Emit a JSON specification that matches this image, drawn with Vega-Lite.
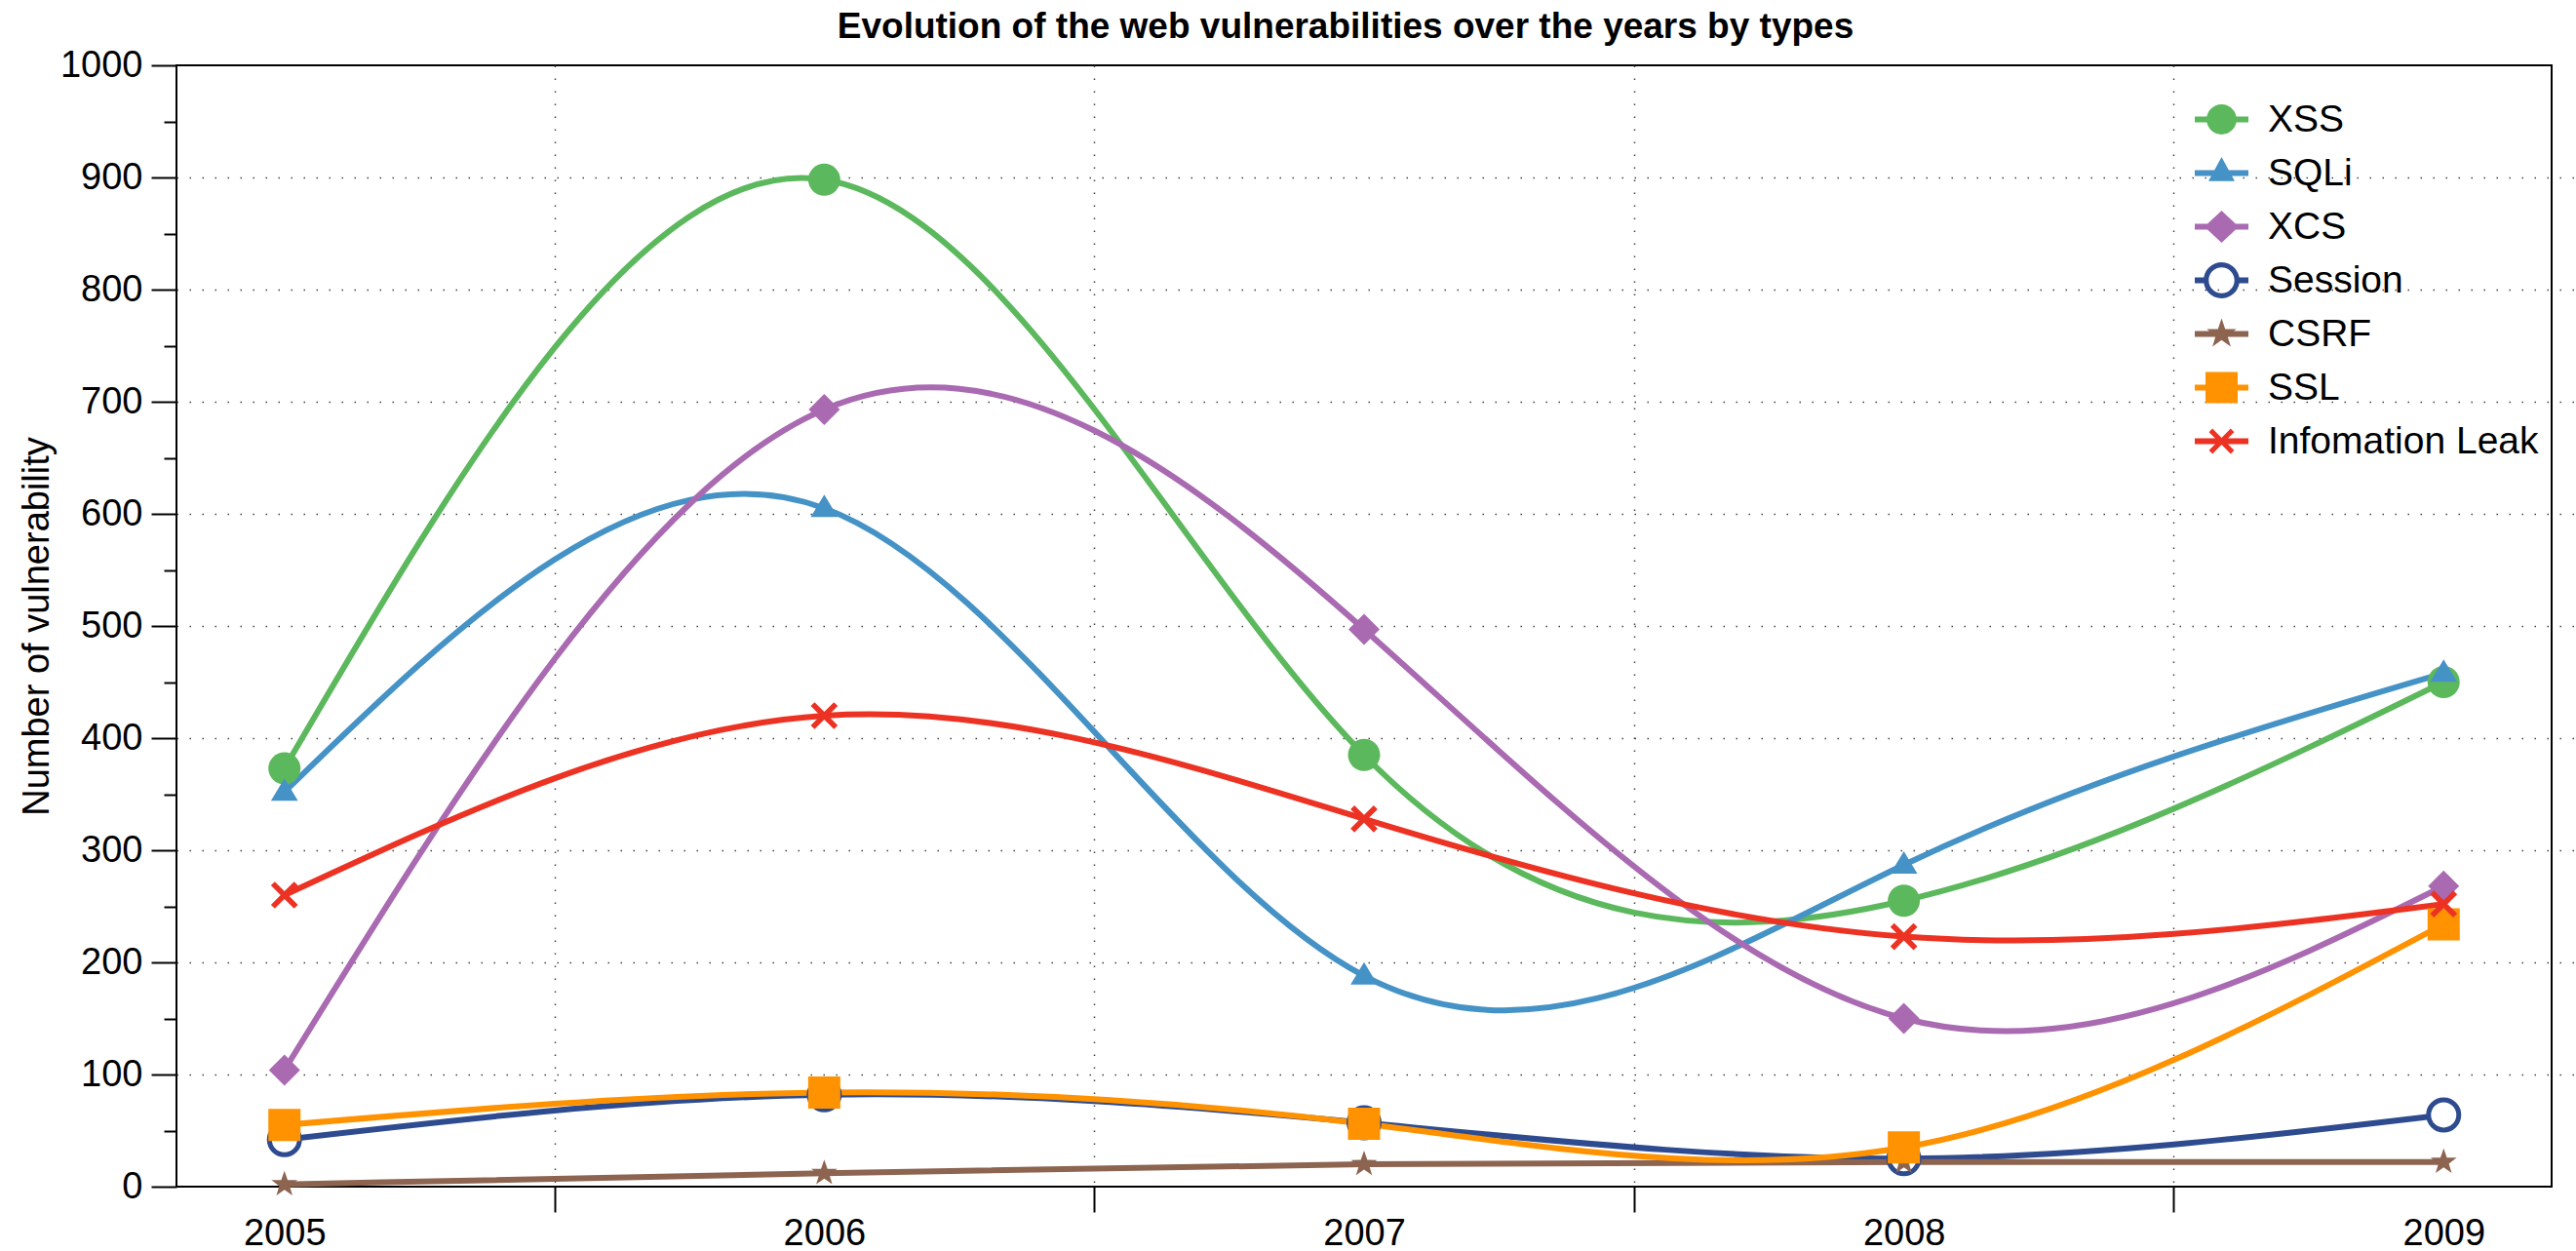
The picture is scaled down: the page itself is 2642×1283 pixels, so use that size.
{
  "$schema": "https://vega.github.io/schema/vega-lite/v6.json",
  "width": 2436,
  "height": 1150,
  "autosize": {"type": "none"},
  "padding": {"left": 181, "top": 67, "right": 25, "bottom": 66},
  "background": "white",
  "config": {
    "font": "Liberation Sans",
    "view": {"stroke": "#000000", "strokeWidth": 2}
  },
  "title": {
    "text": "Evolution of the web vulnerabilities over the years by types",
    "fontSize": 37,
    "fontWeight": "bold",
    "font": "Liberation Sans",
    "color": "#000000",
    "anchor": "middle",
    "frame": "group",
    "baseline": "bottom",
    "offset": 10,
    "dx": -19,
    "dy": 46
  },
  "data": {
    "values": [
      {"type": "XSS", "year": 2005, "value": 373},
      {"type": "XSS", "year": 2006, "value": 898},
      {"type": "XSS", "year": 2007, "value": 385},
      {"type": "XSS", "year": 2008, "value": 255},
      {"type": "XSS", "year": 2009, "value": 450},
      {"type": "SQLi", "year": 2005, "value": 352},
      {"type": "SQLi", "year": 2006, "value": 605},
      {"type": "SQLi", "year": 2007, "value": 188},
      {"type": "SQLi", "year": 2008, "value": 287},
      {"type": "SQLi", "year": 2009, "value": 458},
      {"type": "XCS", "year": 2005, "value": 104},
      {"type": "XCS", "year": 2006, "value": 693},
      {"type": "XCS", "year": 2007, "value": 497},
      {"type": "XCS", "year": 2008, "value": 150},
      {"type": "XCS", "year": 2009, "value": 268},
      {"type": "Session", "year": 2005, "value": 42},
      {"type": "Session", "year": 2006, "value": 82},
      {"type": "Session", "year": 2007, "value": 57},
      {"type": "Session", "year": 2008, "value": 25},
      {"type": "Session", "year": 2009, "value": 64},
      {"type": "CSRF", "year": 2005, "value": 2},
      {"type": "CSRF", "year": 2006, "value": 12},
      {"type": "CSRF", "year": 2007, "value": 20},
      {"type": "CSRF", "year": 2008, "value": 22},
      {"type": "CSRF", "year": 2009, "value": 22},
      {"type": "SSL", "year": 2005, "value": 55},
      {"type": "SSL", "year": 2006, "value": 84},
      {"type": "SSL", "year": 2007, "value": 56},
      {"type": "SSL", "year": 2008, "value": 35},
      {"type": "SSL", "year": 2009, "value": 234},
      {"type": "Infomation Leak", "year": 2005, "value": 260},
      {"type": "Infomation Leak", "year": 2006, "value": 420},
      {"type": "Infomation Leak", "year": 2007, "value": 328},
      {"type": "Infomation Leak", "year": 2008, "value": 223},
      {"type": "Infomation Leak", "year": 2009, "value": 252}
    ]
  },
  "encoding": {
    "x": {
      "field": "year",
      "type": "quantitative",
      "scale": {"domain": [2004.8, 2009.52], "range": [0, 2613.16], "nice": false, "zero": false},
      "axis": {
        "title": null,
        "values": [2005.5, 2006.5, 2007.5, 2008.5, 2009.5],
        "labelExpr": "'' + floor(datum.value)",
        "labelOffset": -276.8,
        "labelOverlap": false,
        "labelFlush": false,
        "labelBound": false,
        "labelFontSize": 38,
        "labelColor": "#000000",
        "labelPadding": 3,
        "domain": false,
        "tickSize": 26,
        "tickWidth": 2,
        "tickColor": "#000000",
        "grid": true,
        "gridColor": "#444444",
        "gridWidth": 1.5,
        "gridDash": [1.5, 11.5]
      }
    },
    "y": {
      "field": "value",
      "type": "quantitative",
      "scale": {"domain": [0, 1000], "nice": false},
      "axis": {
        "title": "Number of vulnerability",
        "titleFontSize": 38,
        "titleFontWeight": "normal",
        "titleColor": "#000000",
        "titlePadding": 4,
        "values": [0, 50, 100, 150, 200, 250, 300, 350, 400, 450, 500, 550, 600, 650, 700, 750, 800, 850, 900, 950, 1000],
        "format": "d",
        "labelExpr": "datum.value % 100 === 0 ? datum.label : ''",
        "labelOverlap": false,
        "labelFlush": false,
        "labelFontSize": 38,
        "labelColor": "#000000",
        "labelPadding": 9,
        "domain": false,
        "tickSize": {"condition": {"test": "datum.value % 100 === 0", "value": 26}, "value": 13},
        "tickWidth": 2,
        "tickColor": "#000000",
        "grid": true,
        "gridColor": "#444444",
        "gridWidth": 1.5,
        "gridDash": [1.5, 11.5],
        "gridOpacity": {"condition": {"test": "datum.value % 100 === 0 && datum.value > 0 && datum.value < 1000", "value": 1}, "value": 0}
      }
    }
  },
  "layer": [
    {
      "mark": {"type": "line", "interpolate": "natural", "strokeWidth": 6},
      "encoding": {
        "color": {
          "field": "type",
          "type": "nominal",
          "scale": {
            "domain": ["XSS", "SQLi", "XCS", "Session", "CSRF", "SSL", "Infomation Leak"],
            "range": ["#5CB85C", "#4592C6", "#A96AB1", "#2D4B8E", "#8C6450", "#FF9200", "#EC3223"]
          },
          "legend": {
            "title": null,
            "orient": "none",
            "legendX": 2070,
            "legendY": 28,
            "padding": 0,
            "rowPadding": 7,
            "symbolSize": 3025,
            "labelFontSize": 39,
            "labelColor": "#000000",
            "labelOffset": 20,
            "labelLimit": 500,
            "encode": {
              "symbols": {
                "update": {
                  "shape": {"signal": "datum.value === 'XSS' ? 'M-1 -0.11H1V0.11H-1Z M0.56 0A0.56 0.56 0 1 1 -0.56 0A0.56 0.56 0 1 1 0.56 0Z' : datum.value === 'SQLi' ? 'M-1 -0.11H1V0.11H-1Z M0 -0.6L0.49 0.3L-0.49 0.3Z' : datum.value === 'XCS' ? 'M-1 -0.11H1V0.11H-1Z M0 -0.6L0.64 0L0 0.6L-0.64 0Z' : datum.value === 'Session' ? 'M-1 -0.11H-0.6V0.11H-1Z M0.6 -0.11H1V0.11H0.6Z M0.67 0A0.67 0.67 0 1 1 -0.67 0A0.67 0.67 0 1 1 0.67 0Z M0.48 0A0.48 0.48 0 1 0 -0.48 0A0.48 0.48 0 1 0 0.48 0Z' : datum.value === 'CSRF' ? 'M-1 -0.11H1V0.11H-1Z M0 -0.58L0.135 -0.186L0.552 -0.179L0.219 0.071L0.341 0.469L0 0.23L-0.341 0.469L-0.219 0.071L-0.552 -0.179L-0.135 -0.186Z' : datum.value === 'SSL' ? 'M-1 -0.11H1V0.11H-1Z M-0.6 -0.58H0.6V0.58H-0.6Z' : 'M-1 -0.11H1V0.11H-1Z M-0.47 -0.34L-0.34 -0.47L0 -0.13L0.34 -0.47L0.47 -0.34L0.13 0L0.47 0.34L0.34 0.47L0 0.13L-0.34 0.47L-0.47 0.34L-0.13 0Z'"},
                  "fill": {"scale": "color", "field": "value"},
                  "stroke": {"value": "transparent"},
                  "strokeWidth": {"value": 0},
                  "opacity": {"value": 1}
                }
              }
            }
          }
        }
      }
    },
    {
      "transform": [{"filter": "datum.type === 'XSS'"}],
      "mark": {"type": "point", "shape": "circle", "filled": true, "fill": "#5CB85C", "strokeWidth": 0, "size": 1089, "opacity": 1}
    },
    {
      "transform": [{"filter": "datum.type === 'SQLi'"}],
      "mark": {"type": "point", "shape": "M0 -0.85L0.84 0.55L-0.84 0.55Z", "filled": true, "fill": "#4592C6", "strokeWidth": 0, "size": 1089, "opacity": 1}
    },
    {
      "transform": [{"filter": "datum.type === 'XCS'"}],
      "mark": {"type": "point", "shape": "diamond", "filled": true, "fill": "#A96AB1", "strokeWidth": 0, "size": 1024, "opacity": 1}
    },
    {
      "transform": [{"filter": "datum.type === 'Session'"}],
      "mark": {"type": "point", "shape": "circle", "filled": false, "fill": "#ffffff", "fillOpacity": 1, "stroke": "#2D4B8E", "strokeWidth": 5, "size": 961, "opacity": 1}
    },
    {
      "transform": [{"filter": "datum.type === 'CSRF'"}],
      "mark": {"type": "point", "shape": "M0 -0.85L0.2 -0.275L0.808 -0.263L0.323 0.105L0.5 0.688L0 0.34L-0.5 0.688L-0.323 0.105L-0.808 -0.263L-0.2 -0.275Z", "filled": true, "fill": "#8C6450", "strokeWidth": 0, "size": 1089, "opacity": 1}
    },
    {
      "transform": [{"filter": "datum.type === 'SSL'"}],
      "mark": {"type": "point", "shape": "square", "filled": true, "fill": "#FF9200", "strokeWidth": 0, "size": 1089, "opacity": 1}
    },
    {
      "transform": [{"filter": "datum.type === 'Infomation Leak'"}],
      "mark": {"type": "point", "shape": "M-0.84 -0.6L-0.6 -0.84L0 -0.24L0.6 -0.84L0.84 -0.6L0.24 0L0.84 0.6L0.6 0.84L0 0.24L-0.6 0.84L-0.84 0.6L-0.24 0Z", "filled": true, "fill": "#EC3223", "strokeWidth": 0, "size": 1089, "opacity": 1}
    }
  ]
}
